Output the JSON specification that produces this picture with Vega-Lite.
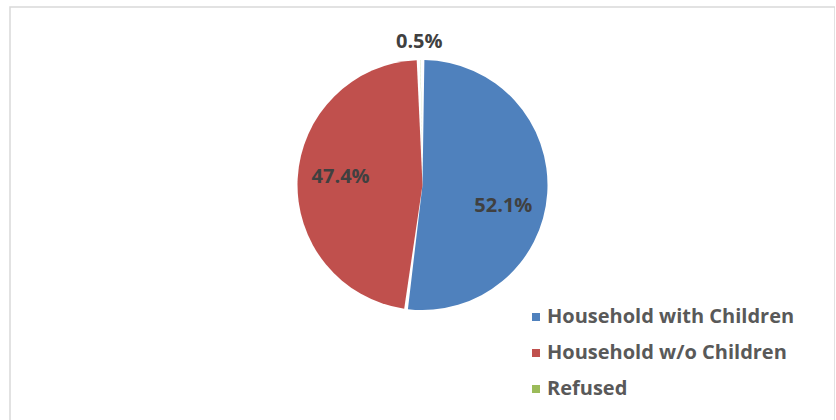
{
  "$schema": "https://vega.github.io/schema/vega-lite/v6.json",
  "autosize": "none",
  "width": 825,
  "height": 430,
  "padding": {"left": 10, "top": 7, "right": 0, "bottom": 0},
  "background": "white",
  "view": {"stroke": "#D9D9D9", "strokeWidth": 1.5},
  "config": {"view": {"stroke": "#D9D9D9", "strokeWidth": 1.5}},
  "data": {"values": [
    {"category": "Household with Children", "value": 52.1, "label": "52.1%", "rank": 1},
    {"category": "Household w/o Children", "value": 47.4, "label": "47.4%", "rank": 2},
    {"category": "Refused", "value": 0.5, "label": "0.5%", "rank": 3}
  ]},
  "encoding": {
    "theta": {"field": "value", "type": "quantitative", "stack": true},
    "order": {"field": "rank", "type": "quantitative"},
    "color": {
      "field": "category",
      "type": "nominal",
      "scale": {
        "domain": ["Household with Children", "Household w/o Children", "Refused"],
        "range": ["#4F81BD", "#C0504D", "#9BBB59"]
      },
      "legend": {
        "orient": "none",
        "legendX": 516,
        "legendY": 300,
        "title": null,
        "symbolType": "square",
        "symbolSize": 64,
        "symbolStrokeWidth": 0,
        "labelFont": "Open Sans",
        "labelFontSize": 20,
        "labelFontWeight": "bold",
        "labelColor": "#595959",
        "labelOffset": 1,
        "rowPadding": 16,
        "labelLimit": 400
      }
    }
  },
  "layer": [
    {"mark": {"type": "arc", "outerRadius": 125, "padAngle": 0.03, "yOffset": -37}},
    {
      "mark": {"type": "text", "radius": 82, "yOffset": -37, "dy": 16, "dx": -1, "font": "Open Sans", "fontWeight": "bold", "fontSize": 20},
      "encoding": {
        "detail": {"field": "category"},
        "color": {"value": "#404040"},
        "text": {"condition": {"test": "datum.rank == 1", "field": "label"}, "value": ""}
      }
    },
    {
      "mark": {"type": "text", "radius": 82, "yOffset": -41, "font": "Open Sans", "fontWeight": "bold", "fontSize": 20},
      "encoding": {
        "detail": {"field": "category"},
        "color": {"value": "#404040"},
        "text": {"condition": {"test": "datum.rank == 2", "field": "label"}, "value": ""}
      }
    },
    {
      "mark": {"type": "text", "radius": 143, "yOffset": -37, "dx": -1, "font": "Open Sans", "fontWeight": "bold", "fontSize": 20},
      "encoding": {
        "detail": {"field": "category"},
        "color": {"value": "#404040"},
        "text": {"condition": {"test": "datum.rank == 3", "field": "label"}, "value": ""}
      }
    }
  ]
}
